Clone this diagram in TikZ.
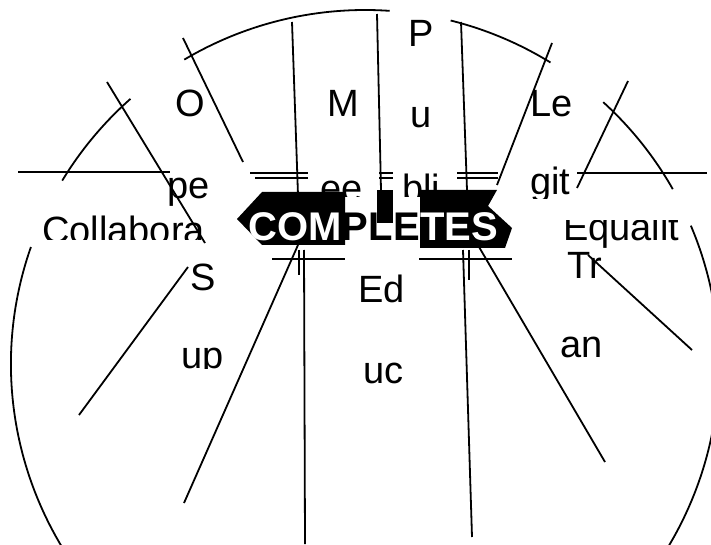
\documentclass[tikz,border=0pt]{standalone}
\usepackage{fontspec}
\setmainfont{Liberation Sans}
\usetikzlibrary{positioning}

\begin{document}
\begin{tikzpicture}[x=1pt,y=1pt,
lbl/.style={anchor=base west,inner sep=0pt,font=\fontsize{38}{40}\selectfont},
ttl/.style={anchor=base west,inner sep=0pt,font=\fontsize{40}{40}\selectfont\bfseries},
seg/.style={line width=1.8pt},
blk/.style={fill=black,draw=none}]
\useasboundingbox (0,0) rectangle (711,544);
\coordinate (ctr) at (365,180);
% black arrow band
\fill[blk] (237,325) -- (262,352) -- (345,352) -- (345,299) -- (262,299) -- cycle;
\fill[blk] (420,354) -- (497,354) -- (488,338) -- (512,316) -- (505,296) -- (420,296) -- cycle;
\fill[blk] (377,354) rectangle (393,321);
\node[ttl,white] (t1) at (248,303) {COM};
\node[ttl,black] (t2) at (t1.base east) {PLE};
\node[ttl,white] (t3) at (t2.base east) {TES};
% ring pieces
\draw[seg] (ctr) ++(120.7:354) arc[start angle=120.7,end angle=86,radius=354];
\draw[seg] (ctr) ++(76:354) arc[start angle=76,end angle=58.4,radius=354];
\draw[seg] (ctr) ++(148.8:354) arc[start angle=148.8,end angle=131.5,radius=354];
\draw[seg] (ctr) ++(47.7:354) arc[start angle=47.7,end angle=29.6,radius=354];
\draw[seg] (ctr) ++(160.7:354) arc[start angle=160.7,end angle=383,radius=354];
% spokes and ticks
\foreach \p/\q in {{(183,506)}/{(243,382)},{(292,522)}/{(298,349)},{(377,530)}/{(381,354)},
  {(461,522)}/{(467,354)},{(552,501)}/{(497,359)},{(107,462)}/{(205,301)},
  {(18,372)}/{(170,372)},{(628,463)}/{(577,356)},{(577,371)}/{(707,371)},
  {(250,371)}/{(308,371)},{(255,366)}/{(308,366)},{(379,371)}/{(393,371)},
  {(379,366)}/{(393,366)},{(457,371)}/{(498,371)},{(457,366)}/{(498,366)},
  {(272,285)}/{(345,285)},{(419,285)}/{(512,285)},
  {(79,129)}/{(188,277)},{(184,41)}/{(298,299)},{(304,294)}/{(305,0)},
  {(299,294)}/{(299,269)},{(463,294)}/{(472,7)},{(469,294)}/{(469,264)},
  {(472,309)}/{(605,82)},{(588,289)}/{(692,194)}}
  \draw[seg] \p -- \q;
% labels
\node[lbl] (p) at (408,497) {P};
\node[lbl] (u) at (410,416) {u};
\node[lbl] (o) at (175,427) {O};
\node[lbl] (m) at (327,427) {M};
\node[lbl] (le) at (530,427) {Le};
\node[lbl] (pe) at (167,345) {pe};
\begin{scope}
\clip (0,347) rectangle (711,544);
\node[lbl] (ee) at (320,342) {ee};
\node[lbl] (bli) at (402,342) {bli};
\end{scope}
\begin{scope}
\clip (0,345) rectangle (711,544);
\node[lbl] (git) at (530,349) {git};
\end{scope}
\begin{scope}
\clip (0,304) rectangle (236,544);
\node[lbl] (col) at (42,300) {Collabora};
\end{scope}
\begin{scope}
\clip (520,0) rectangle (711,323);
\node[lbl] (equ) at (563,303) {Equalit};
\end{scope}
\node[lbl] (s) at (190,254) {S};
\node[lbl] (ed) at (358,242) {Ed};
\node[lbl] (tr) at (567,266) {Tr};
\begin{scope}
\clip (0,176) rectangle (711,544);
\node[lbl] (up) at (181,176) {up};
\end{scope}
\node[lbl] (uc) at (363,161) {uc};
\node[lbl] (an) at (560,187) {an};
\end{tikzpicture}
\end{document}
